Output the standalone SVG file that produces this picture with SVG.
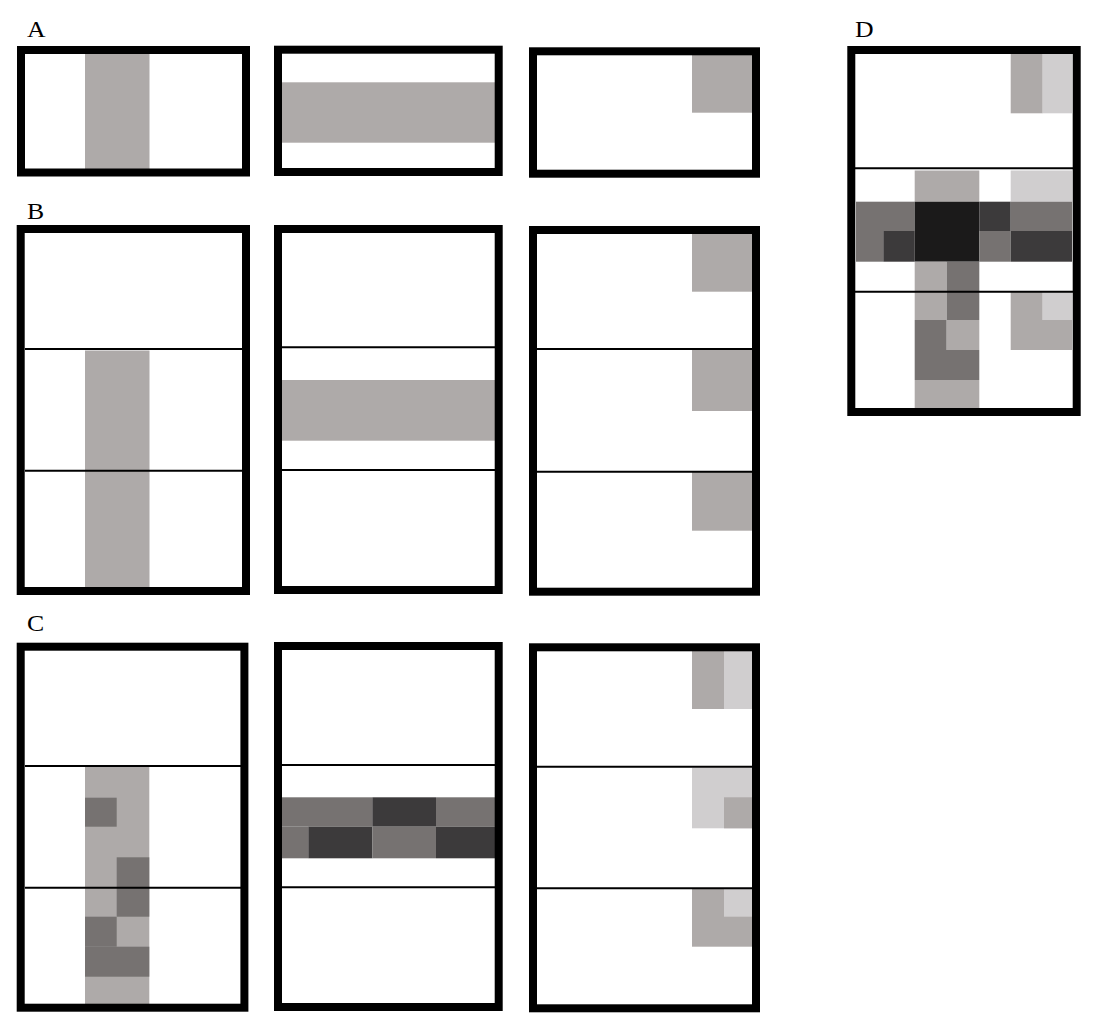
<svg xmlns="http://www.w3.org/2000/svg" width="1100" height="1032" viewBox="0 0 1100 1032">
<style>
.frame{fill:none;stroke:#000;stroke-width:8}
.sep{stroke:#000;stroke-width:2}
.g{fill:#aeaaa9}
.l{fill:#d0cecf}
.m{fill:#767271}
.d{fill:#3c3a3b}
.k{fill:#1b1a1a}
.lbl{font-family:"Liberation Serif","Times New Roman",serif;font-size:23px;fill:#000}
</style>
<rect width="1100" height="1032" fill="#fff"/>
<g id="labels">
<text class="lbl" transform="translate(27,36.5) scale(1.12,1)">A</text>
<text class="lbl" transform="translate(27,218.5) scale(1.12,1)">B</text>
<text class="lbl" transform="translate(27,630.5) scale(1.12,1)">C</text>
<text class="lbl" transform="translate(855,37) scale(1.12,1)">D</text>
</g>
<g id="panelA1">
<rect class="g" x="85" y="54" width="64.5" height="115"/>
<rect class="frame" x="21" y="50" width="225" height="122.5"/>
</g>
<g id="panelA2">
<rect class="g" x="282" y="82.3" width="213" height="60.4"/>
<rect class="frame" x="278" y="49.7" width="220.7" height="122.3"/>
</g>
<g id="panelA3">
<rect class="g" x="692" y="55" width="60" height="57.7"/>
<rect class="frame" x="533" y="51.3" width="223" height="122.4"/>
</g>
<g id="panelB1">
<rect class="g" x="85" y="350.5" width="64.5" height="237"/>
<line class="sep" x1="25" y1="349" x2="242" y2="349"/>
<line class="sep" x1="25" y1="470.7" x2="242" y2="470.7"/>
<rect class="frame" x="20.7" y="229" width="225.3" height="362"/>
</g>
<g id="panelB2">
<rect class="g" x="282" y="380" width="213" height="60.7"/>
<line class="sep" x1="282" y1="347.3" x2="495" y2="347.3"/>
<line class="sep" x1="282" y1="470" x2="495" y2="470"/>
<rect class="frame" x="278" y="229" width="220.7" height="361"/>
</g>
<g id="panelB3">
<rect class="g" x="692" y="234" width="60" height="57.7"/>
<rect class="g" x="692" y="350" width="60" height="61"/>
<rect class="g" x="692" y="471.7" width="60" height="59"/>
<line class="sep" x1="537" y1="349" x2="752" y2="349"/>
<line class="sep" x1="537" y1="471.7" x2="752" y2="471.7"/>
<rect class="frame" x="533" y="230" width="223" height="361.7"/>
</g>
<g id="panelC1">
<rect class="g" x="85" y="767" width="64.3" height="237"/>
<rect class="m" x="85" y="797.7" width="31.7" height="29"/>
<rect class="m" x="116.7" y="857.3" width="32.6" height="59.4"/>
<rect class="m" x="85" y="916.7" width="31.7" height="30"/>
<rect class="m" x="85" y="946.7" width="64.3" height="30"/>
<line class="sep" x1="25" y1="766" x2="241" y2="766"/>
<line class="sep" x1="25" y1="887.7" x2="241" y2="887.7"/>
<rect class="frame" x="20.7" y="646.7" width="223.7" height="361"/>
</g>
<g id="panelC2">
<rect class="m" x="282" y="797.3" width="90.3" height="29.4"/>
<rect class="d" x="372.3" y="797.3" width="63.7" height="29.4"/>
<rect class="m" x="436" y="797.3" width="59" height="29.4"/>
<rect class="m" x="282" y="826.7" width="26.3" height="31.6"/>
<rect class="d" x="308.3" y="826.7" width="64" height="31.6"/>
<rect class="m" x="372.3" y="826.7" width="63.7" height="31.6"/>
<rect class="d" x="436" y="826.7" width="59" height="31.6"/>
<line class="sep" x1="282" y1="765" x2="495" y2="765"/>
<line class="sep" x1="282" y1="887.3" x2="495" y2="887.3"/>
<rect class="frame" x="278" y="646" width="220.7" height="361"/>
</g>
<g id="panelC3">
<rect class="g" x="692" y="651" width="32" height="58"/>
<rect class="l" x="724" y="651" width="28" height="58"/>
<rect class="l" x="692" y="767.7" width="60" height="60.6"/>
<rect class="g" x="724" y="797.3" width="28" height="31"/>
<rect class="g" x="692" y="888" width="60" height="58.7"/>
<rect class="l" x="724" y="888" width="28" height="28.7"/>
<line class="sep" x1="537" y1="766.7" x2="752" y2="766.7"/>
<line class="sep" x1="537" y1="888.3" x2="752" y2="888.3"/>
<rect class="frame" x="533" y="647.3" width="223" height="361"/>
</g>
<g id="panelD">
<rect class="g" x="1010.7" y="54" width="32" height="59.3"/>
<rect class="l" x="1042.7" y="54" width="29.3" height="59.3"/>
<rect class="g" x="914.7" y="170.5" width="64.6" height="31.2"/>
<rect class="l" x="1010.7" y="170.5" width="61.3" height="31.2"/>
<rect class="m" x="856" y="201.7" width="58.7" height="29.3"/>
<rect class="k" x="914.7" y="201.7" width="64.6" height="29.3"/>
<rect class="d" x="979.3" y="201.7" width="31.4" height="29.3"/>
<rect class="m" x="1010.7" y="201.7" width="61.3" height="29.3"/>
<rect class="m" x="856" y="231" width="27.3" height="30.7"/>
<rect class="d" x="883.3" y="231" width="31.4" height="30.7"/>
<rect class="k" x="914.7" y="231" width="64.6" height="30.7"/>
<rect class="m" x="979.3" y="231" width="31.4" height="30.7"/>
<rect class="d" x="1010.7" y="231" width="61.3" height="30.7"/>
<rect class="g" x="914.7" y="261.7" width="32" height="58.3"/>
<rect class="m" x="946.7" y="261.7" width="32.6" height="58.3"/>
<rect class="g" x="1010.7" y="291.7" width="32" height="28.3"/>
<rect class="l" x="1042.7" y="291.7" width="29.3" height="28.3"/>
<rect class="m" x="914.7" y="320" width="32" height="30"/>
<rect class="g" x="946.7" y="320" width="32.6" height="30"/>
<rect class="g" x="1010.7" y="320" width="61.3" height="30"/>
<rect class="m" x="914.7" y="350" width="64.6" height="30"/>
<rect class="g" x="914.7" y="380" width="64.6" height="28"/>
<line class="sep" x1="855" y1="168.3" x2="1073" y2="168.3"/>
<line class="sep" x1="855" y1="291.7" x2="1073" y2="291.7"/>
<rect class="frame" x="851.3" y="50" width="225.4" height="362"/>
</g>
</svg>
